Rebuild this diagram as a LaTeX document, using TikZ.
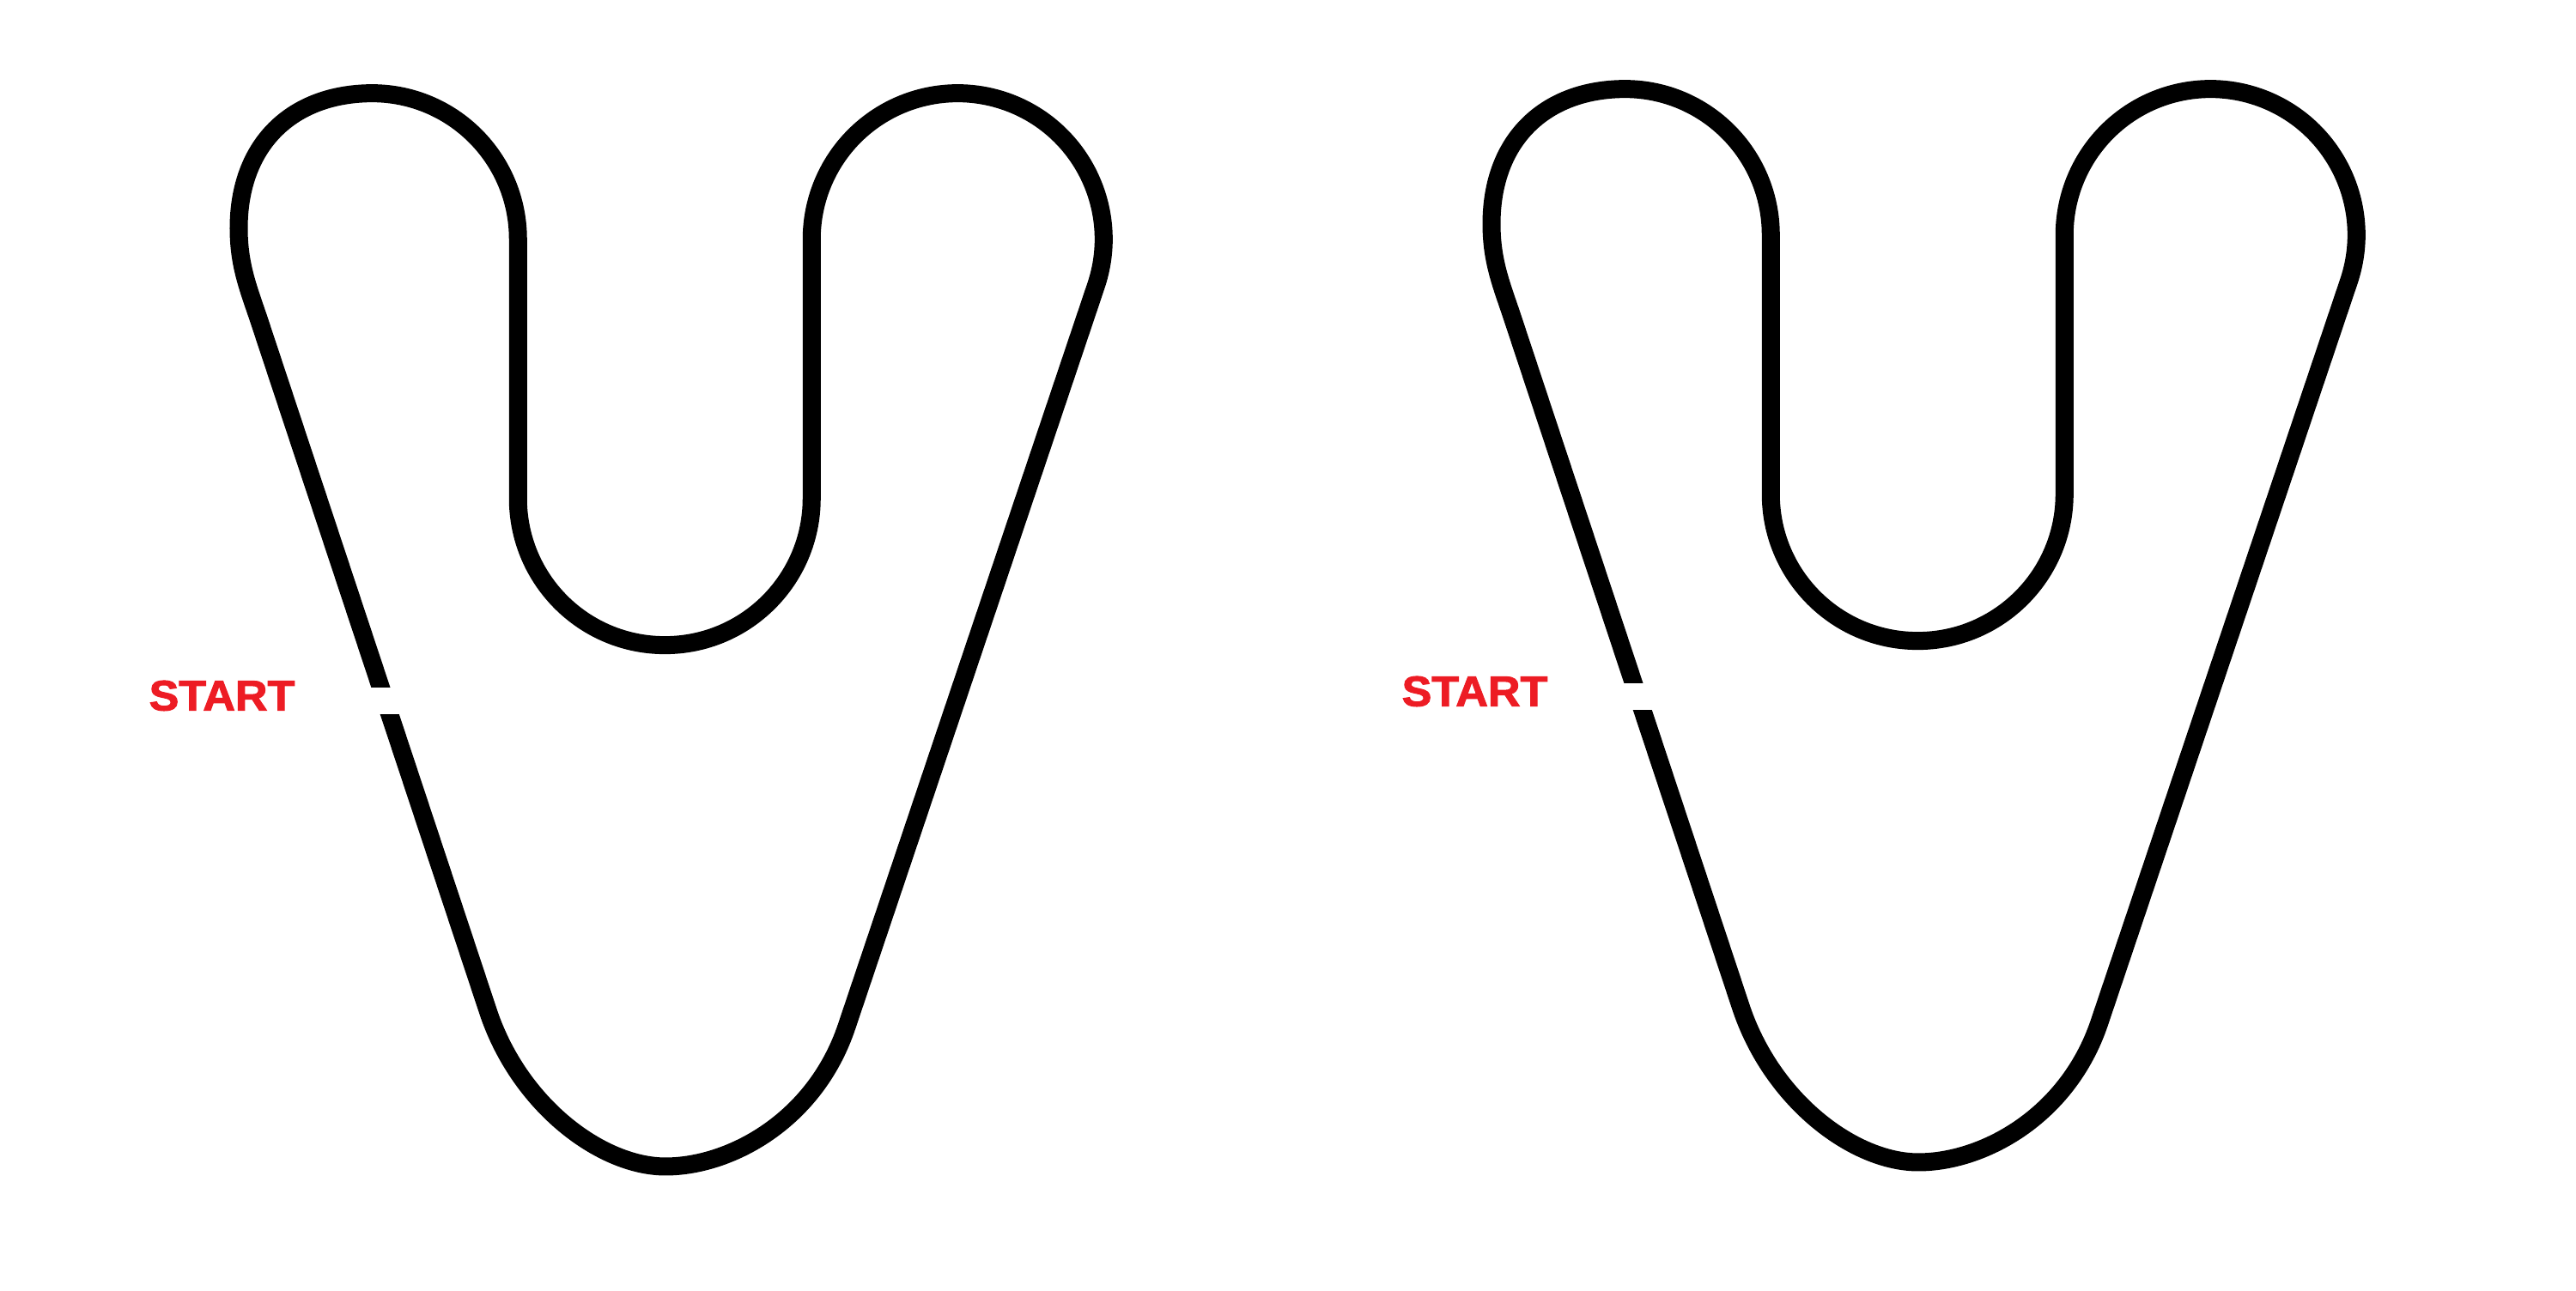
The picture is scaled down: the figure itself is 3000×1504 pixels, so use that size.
\documentclass[tikz,border=0pt]{standalone}
\usepackage{fontspec}
\newfontfamily\labelfont[FakeBold=2]{Liberation Sans Bold}
\usepackage{tikz}

\definecolor{startred}{RGB}{237,28,36}
\tikzset{
    belt/.style={line width=0.21cm, line join=round},
    startlabel/.style={font=\labelfont\fontsize{14.1}{14}\selectfont,
        text=startred, xscale=1.05, inner sep=0pt}
}

\begin{document}
\begin{tikzpicture}[x=0.01cm, y=0.01cm]  % units are pixels of the reference
    \useasboundingbox (0,0) rectangle (3000,1504);

    % Two copies of the belt route, left and right
    \foreach \dx/\dy/\side in {0/0/left, 1459/5/right}{
        \begin{scope}[shift={(\dx,\dy)}]
            % Belt
            \draw[belt] (568,327) .. controls (604,217) and (700,145) .. (775,145)
                .. controls (850,145) and (949,198) .. (986,308)
                -- (1276,1170) arc[start angle=-19, end angle=180, radius=170]
                -- ++(0,-302) arc[start angle=0, end angle=-180, radius=171]
                -- ++(0,302) arc[start angle=0, end angle=90, radius=170]
                .. controls (340,1395) and (278,1336) .. (278,1238)
                .. controls (278,1192) and (291,1164) .. (304,1124)
                -- cycle;

            % Gap at the start point
            \fill[white] (410,672) rectangle (490,703);

            % Label
            \node[startlabel] (start\side) at (258.5,693.5) {START};
        \end{scope}
    }

\end{tikzpicture}
\end{document}
